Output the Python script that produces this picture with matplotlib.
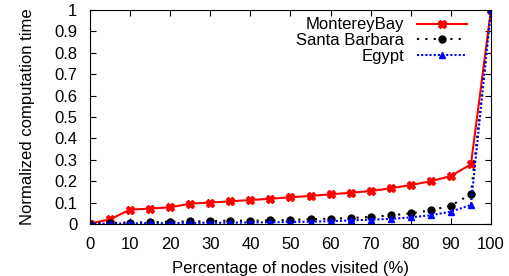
import matplotlib.pyplot as plt
import numpy as np

plt.rcParams['font.family'] = ['Liberation Sans', 'DejaVu Sans']

# percentage of nodes visited
x = np.arange(0, 101, 5)

monterey = [0.002, 0.022, 0.067, 0.072, 0.078, 0.095, 0.100, 0.106, 0.112, 0.118,
            0.125, 0.131, 0.139, 0.146, 0.154, 0.167, 0.182, 0.200, 0.224, 0.279, 1.0]
santa_barbara = [0.002, 0.005, 0.007, 0.008, 0.011, 0.012, 0.013, 0.016, 0.015, 0.017,
                 0.019, 0.022, 0.025, 0.028, 0.033, 0.040, 0.050, 0.064, 0.086, 0.139, 1.0]
egypt = [0.001, 0.002, 0.003, 0.004, 0.004, 0.005, 0.006, 0.006, 0.007, 0.008,
         0.009, 0.011, 0.013, 0.017, 0.020, 0.024, 0.031, 0.041, 0.058, 0.089, 1.0]

fig = plt.figure(figsize=(5.09, 2.76), dpi=100)
ax = fig.add_axes([0.1768, 0.1884, 0.7878, 0.7754])

ax.plot(x, monterey, '-', color='red', lw=1.5, marker='X', ms=6,
        mec='red', mfc='red', label='MontereyBay')
ax.plot(x, santa_barbara, color='black', lw=1.5, ls=(0, (1, 3)), marker='o', ms=5,
        label='Santa Barbara')
ax.plot(x, egypt, color='blue', lw=1.5, ls=(0, (1, 1)), marker='^', ms=5,
        label='Egypt')

ax.set_xlim(0, 100)
ax.set_ylim(0, 1)
ax.set_xticks(np.arange(0, 101, 10))
ax.set_yticks(np.arange(0, 1.01, 0.1))
ax.set_yticklabels(['0', '0.1', '0.2', '0.3', '0.4', '0.5', '0.6', '0.7', '0.8', '0.9', '1'])
ax.tick_params(direction='in', top=True, right=True, labelsize=12, length=4)
ax.tick_params(axis='y', pad=9)
ax.tick_params(axis='x', pad=9)
ax.set_xlabel('Percentage of nodes visited (%)', fontsize=12, labelpad=7)
ax.set_ylabel('Normalized computation time', fontsize=12, labelpad=14)

ax.legend(loc='upper right', bbox_to_anchor=(0.97, 1.02), frameon=False, markerfirst=False,
          fontsize=12, handlelength=3, labelspacing=0.05, borderpad=0.2)

fig.savefig('out.png', dpi=100)
